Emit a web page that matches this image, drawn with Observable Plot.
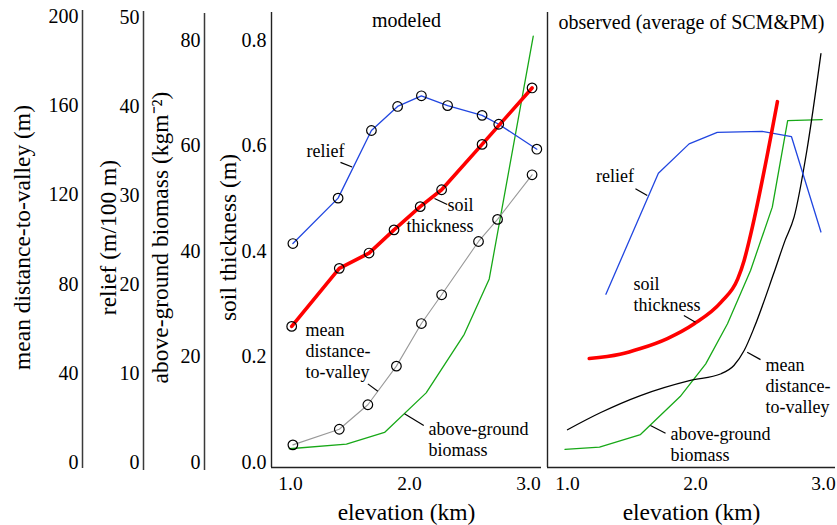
<!DOCTYPE html>
<html><head><meta charset="utf-8">
<script src="https://cdn.jsdelivr.net/npm/d3@7"></script>
<script src="https://cdn.jsdelivr.net/npm/@observablehq/plot@0.6"></script>
<style>
html,body{margin:0;padding:0;background:#fff;}
#chart{position:relative;width:837px;height:525px;overflow:hidden;background:#fff;}
#chart svg{position:absolute;left:0;top:0;}
</style></head><body><div id="chart"></div>
<script>
// ---------- data ----------
// modeled
const elevModeledRelief = [1.02, 1.40, 1.68, 1.90, 2.10, 2.32, 2.61, 2.75, 3.07];
const reliefModeled     = [24.6, 29.7, 37.3, 40.0, 41.2, 40.1, 39.0, 38.0, 35.2];
const elevModeledSoil   = [1.01, 1.41, 1.66, 1.87, 2.09, 2.27, 2.61, 3.03];
const soilModeled       = [0.258, 0.368, 0.397, 0.441, 0.485, 0.517, 0.603, 0.710];
const elevModeledDist   = [1.02, 1.41, 1.65, 1.89, 2.10, 2.27, 2.58, 2.74, 3.03];
const distModeled       = [7.9, 14.9, 25.9, 43.2, 62.3, 75.2, 99.1, 109.0, 129.0];
const elevModeledBio    = [0.99, 1.47, 1.79, 2.14, 2.46, 2.67, 3.04];
const bioModeled        = [2.6, 3.5, 5.7, 13.2, 24.3, 34.8, 80.8];
// observed (average of SCM&PM)
const elevObsRelief = [1.30, 1.71, 1.95, 2.17, 2.52, 2.75, 2.98];
const reliefObs     = [18.9, 32.5, 35.8, 37.1, 37.2, 36.6, 25.9];
const elevObsSoil   = [1.17, 1.41, 1.57, 1.78, 1.99, 2.20, 2.33, 2.38, 2.42, 2.64];
const soilObs       = [0.197, 0.205, 0.216, 0.235, 0.263, 0.304, 0.348, 0.383, 0.421, 0.684];
const elevObsDist   = [1.00, 1.26, 1.57, 1.96, 2.20, 2.30, 2.38, 2.46, 2.61, 2.70, 2.77, 2.87, 2.98];
const distObs       = [14.7, 22.4, 30.0, 36.8, 39.8, 43.5, 50.2, 60.7, 84.6, 99.6, 110.0, 139.9, 183.3];
const elevObsBio    = [0.98, 1.25, 1.57, 1.88, 2.08, 2.25, 2.43, 2.60, 2.72, 2.99];
const bioObs        = [2.5, 2.9, 5.3, 12.5, 18.7, 26.3, 36.4, 48.4, 64.8, 65.0];

// tick labels
const distTicks   = [0, 40, 80, 120, 160, 200];
const reliefTicks = [0, 10, 20, 30, 40, 50];
const bioTicks    = [0, 20, 40, 60, 80];
const soilTicks   = [0, 0.2, 0.4, 0.6, 0.8];
const elevTicks   = [1, 2, 3];

// annotation labels (in elevation / soil-thickness units)
const modeledLabels = [
  {e: 1.294, v: 0.5915, text: "relief", anchor: "middle"},
  {e: 2.538, v: 0.469, text: "soil\nthickness", anchor: "end"},
  {e: 1.126, v: 0.213, text: "mean\ndistance-\nto-valley", anchor: "start"},
  {e: 2.160, v: 0.0455, text: "above-ground\nbiomass", anchor: "start"}
];
const modeledLeaders = [
  {e1: 1.420, v1: 0.569, e2: 1.518, v2: 0.560},
  {e1: 2.210, v1: 0.5005, e2: 2.317, v2: 0.489},
  {e1: 1.650, v1: 0.149, e2: 1.734, v2: 0.135},
  {e1: 1.958, v1: 0.0923, e2: 2.120, v2: 0.0701}
];
const observedLabels = [
  {e: 1.371, v: 0.544, text: "relief", anchor: "middle"},
  {e: 1.516, v: 0.320, text: "soil\nthickness", anchor: "start"},
  {e: 2.547, v: 0.147, text: "mean\ndistance-\nto-valley", anchor: "start"},
  {e: 1.805, v: 0.036, text: "above-ground\nbiomass", anchor: "start"}
];
const observedLeaders = [
  {e1: 1.531, v1: 0.519, e2: 1.623, v2: 0.506},
  {e1: 1.909, v1: 0.2787, e2: 2.000, v2: 0.266},
  {e1: 2.404, v1: 0.209, e2: 2.508, v2: 0.195},
  {e1: 1.648, v1: 0.070, e2: 1.766, v2: 0.0555}
];

// ---------- layout ----------
const W = 837, H = 525;
const FONT = "'Liberation Serif', 'Times New Roman', Times, serif";
const baseStyle = {fontFamily: FONT, background: "transparent", color: "black", overflow: "visible"};
const BLUE = "#2146e0", RED = "#ff0000", GREEN = "#17a817", GRAY = "#999999", BLACK = "#000000";

// conversion of the secondary axes to soil-thickness units (shared pixel frame)
const Y0 = 462;                       // pixel of zero on every left axis
const soilPx = (Y0 - 40) / 0.8;       // px per metre of soil
const kDist = (Y0 - 16) / 200 / soilPx;
const kRelief = (Y0 - 17) / 50 / soilPx;
const kBio = (Y0 - 40) / 80 / soilPx;

const zip = (xs, ys) => xs.map((x, i) => ({x, y: ys[i]}));

function axisPlot({lineX, domain, range, ticks, title, titleDx, top, bottom}) {
  return Plot.plot({
    width: W, height: H,
    marginLeft: lineX, marginRight: W - lineX - 1, marginTop: top, marginBottom: H - bottom,
    style: baseStyle,
    x: {domain: [0, 1], axis: null},
    y: {domain, range},
    marks: [
      Plot.ruleX([0], {stroke: "#3a3a3a", strokeWidth: 1.5}),
      Plot.axisY({ticks, tickSize: 0, tickPadding: 4, fontSize: 20, fontFamily: FONT, label: null, tickFormat: d => String(d)}),
      Plot.text([title], {frameAnchor: "left", textAnchor: "middle", lineAnchor: "middle", rotate: -90,
        dx: titleDx, dy: 237 - (top + bottom) / 2, fontSize: 23.5, fontFamily: FONT})
    ]
  });
}

const yDomain = [-0.0095, 0.853];

function panelPlot({xDomain, marginLeft, marginRight, title, titleDy, soilAxis, curve,
                    relief, soil, dist, bio, dots, labels, leaders}) {
  const marks = [
    Plot.ruleX([xDomain[0]], {stroke: "#222", strokeWidth: 1.4}),
    Plot.ruleY([yDomain[0]], {stroke: "#222", strokeWidth: 1.4}),
    Plot.axisX({ticks: elevTicks, tickFormat: d3.format(".1f"), tickSize: 0, tickPadding: 9, fontSize: 19.5, fontFamily: FONT, label: null}),
    Plot.text([title], {frameAnchor: "top", dy: titleDy, fontSize: 20, lineAnchor: "middle", fontFamily: FONT}),
    Plot.text(["elevation (km)"], {frameAnchor: "bottom", dy: 45, fontSize: 23.5, lineAnchor: "middle", fontFamily: FONT}),
    Plot.line(bio, {x: "x", y: d => d.y * kBio, stroke: GREEN, strokeWidth: 1.3}),
    Plot.line(dist, {x: "x", y: d => d.y * kDist, stroke: dots ? GRAY : BLACK, strokeWidth: dots ? 1.1 : 1.3, curve}),
    Plot.line(relief, {x: "x", y: d => d.y * kRelief, stroke: BLUE, strokeWidth: 1.3}),
    Plot.line(soil, {x: "x", y: "y", stroke: RED, strokeWidth: 3.6, curve})
  ];
  if (dots) {
    marks.push(
      Plot.dot(dist, {x: "x", y: d => d.y * kDist, r: 4.8, stroke: "black", fill: "none", strokeWidth: 1.2}),
      Plot.dot(relief, {x: "x", y: d => d.y * kRelief, r: 4.8, stroke: "black", fill: "none", strokeWidth: 1.2}),
      Plot.dot(soil, {x: "x", y: "y", r: 4.8, stroke: "black", fill: "none", strokeWidth: 1.2})
    );
  }
  marks.push(Plot.link(leaders, {x1: "e1", y1: "v1", x2: "e2", y2: "v2", stroke: "black", strokeWidth: 1.2}));
  for (const a of ["start", "middle", "end"]) {
    marks.push(Plot.text(labels, {filter: d => d.anchor === a, x: "e", y: "v", text: "text",
      textAnchor: a, lineAnchor: "middle", lineHeight: 1.17, fontSize: 18, fontFamily: FONT}));
  }
  if (soilAxis) {
    marks.push(Plot.axisY({ticks: soilTicks, tickFormat: d3.format(".1f"), tickSize: 0, tickPadding: 5, fontSize: 20, fontFamily: FONT, label: null}));
    marks.push(Plot.text(["soil thickness (m)"], {frameAnchor: "left", textAnchor: "middle", lineAnchor: "middle",
      rotate: -90, dx: -43, dy: 237 - (12 + 467) / 2, fontSize: 23.5, fontFamily: FONT}));
  }
  return Plot.plot({
    width: W, height: H,
    marginLeft, marginRight, marginTop: 12, marginBottom: H - 467,
    style: baseStyle,
    x: {domain: xDomain},
    y: {domain: yDomain, axis: soilAxis ? undefined : null},
    marks
  });
}

const chart = document.getElementById("chart");

chart.append(axisPlot({lineX: 82, domain: [0, 200], range: [Y0, 16], ticks: distTicks,
  title: "mean distance-to-valley (m)", titleDx: -60, top: 10, bottom: 468}));
chart.append(axisPlot({lineX: 143, domain: [0, 50], range: [Y0, 17], ticks: reliefTicks,
  title: "relief (m/100 m)", titleDx: -35, top: 11, bottom: 470}));
chart.append(axisPlot({lineX: 204, domain: [0, 80], range: [Y0, 40], ticks: bioTicks,
  title: "above-ground biomass (kgm\u207B\u00B2)", titleDx: -44, top: 13, bottom: 470}));

chart.append(panelPlot({
  xDomain: [1 - 19 / 119, 3 + 13 / 119], marginLeft: 271, marginRight: W - 541,
  title: "modeled", titleDy: 8, soilAxis: true, curve: "linear",
  relief: zip(elevModeledRelief, reliefModeled), soil: zip(elevModeledSoil, soilModeled),
  dist: zip(elevModeledDist, distModeled), bio: zip(elevModeledBio, bioModeled),
  dots: true, labels: modeledLabels, leaders: modeledLeaders
}));

chart.append(panelPlot({
  xDomain: [1 - 20 / 128, 3 + 12 / 128], marginLeft: 547, marginRight: W - 835,
  title: "observed (average of SCM&PM)", titleDy: 10, soilAxis: false, curve: "monotone-x",
  relief: zip(elevObsRelief, reliefObs), soil: zip(elevObsSoil, soilObs),
  dist: zip(elevObsDist, distObs), bio: zip(elevObsBio, bioObs),
  dots: false, labels: observedLabels, leaders: observedLeaders
}));
</script></body></html>
